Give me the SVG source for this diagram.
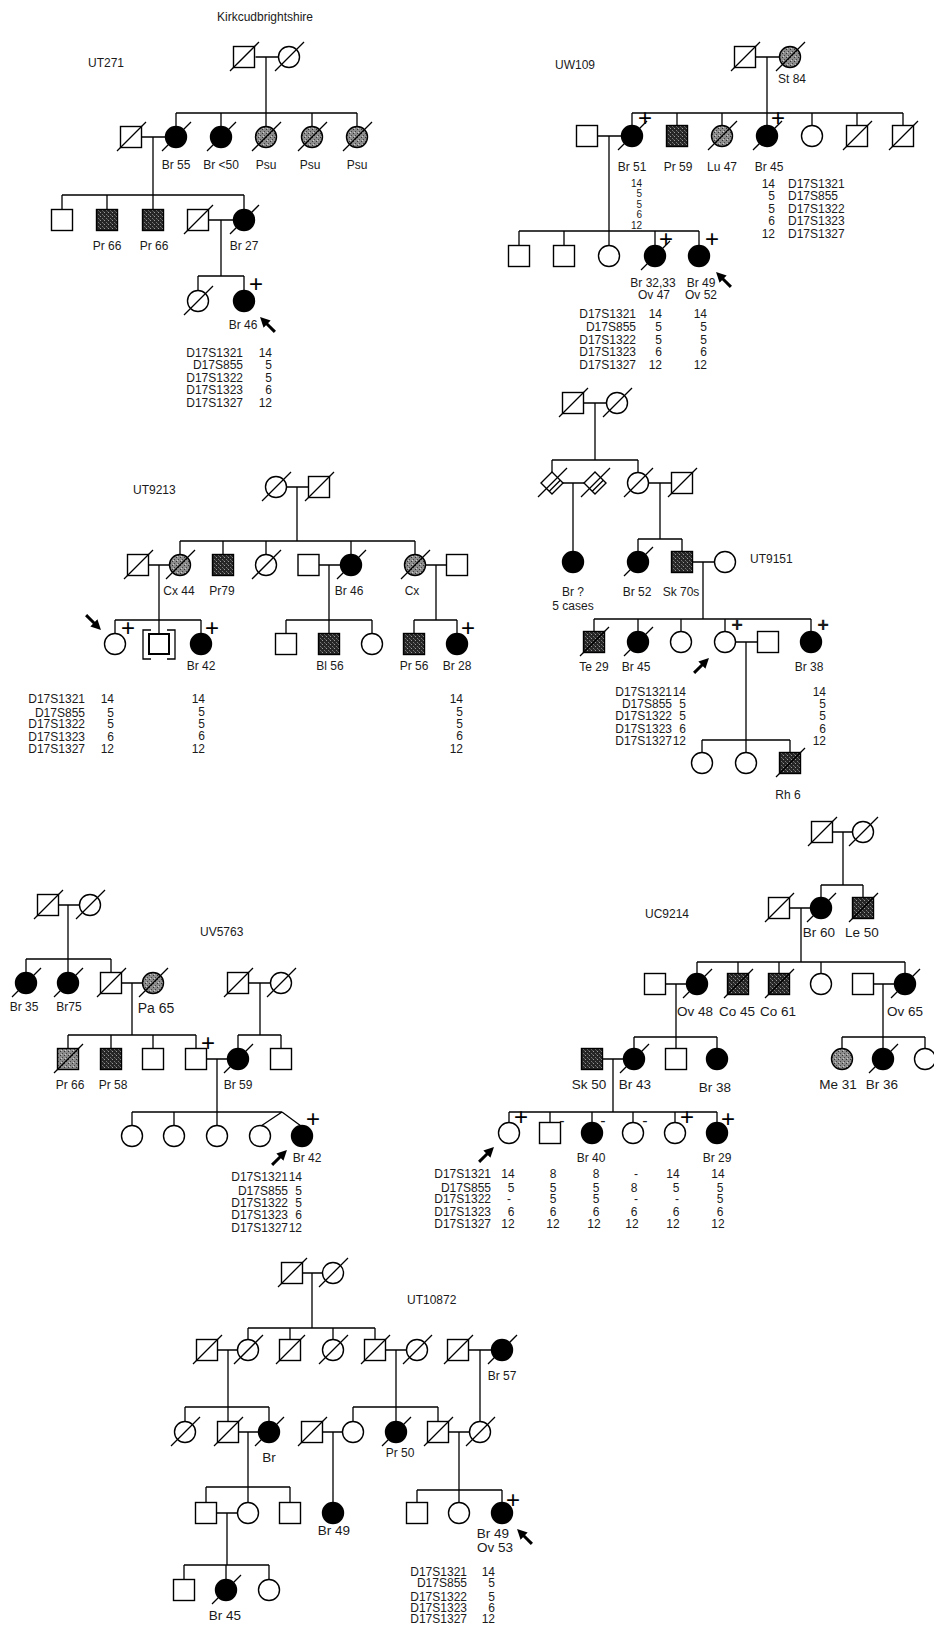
<svg xmlns="http://www.w3.org/2000/svg" width="934" height="1629" viewBox="0 0 934 1629">
<style>
.o{fill:#fff;stroke:#000;stroke-width:1.4}
.f{fill:#000;stroke:#000;stroke-width:1.4}
.s{fill:url(#stip);stroke:#000;stroke-width:1.4}
.g{fill:url(#grey);stroke:#000;stroke-width:1.4}
.d{fill:none;stroke:#000;stroke-width:1.3}
.cn{fill:none;stroke:#000;stroke-width:1.3}
.ar{fill:none;stroke:#000;stroke-width:3;marker-end:url(#ah)}
.t{font-family:"Liberation Sans",Arial,sans-serif;font-size:12px;fill:#1a1a1a}
.c{text-anchor:middle}
.r{text-anchor:end}
.lg{font-size:13.5px}
.sm{font-size:10px}
.pl{font-size:24px;fill:#000}
.plb{font-size:20px;font-weight:bold}
.mi{font-size:16px}
</style>
<defs>
<pattern id="stip" width="4" height="4" patternUnits="userSpaceOnUse"><rect width="4" height="4" fill="#262626"/><rect x="1" y="0" width="1" height="1" fill="#9a9a9a"/><rect x="3" y="2" width="1" height="1" fill="#777"/><rect x="0" y="3" width="1" height="1" fill="#555"/></pattern>
<pattern id="grey" width="4" height="4" patternUnits="userSpaceOnUse"><rect width="4" height="4" fill="#8c8c8c"/><rect x="0" y="0" width="1" height="1" fill="#333"/><rect x="2" y="2" width="1" height="1" fill="#444"/><rect x="1" y="3" width="1" height="1" fill="#ccc"/></pattern>
<marker id="ah" viewBox="0 0 10 10" refX="2" refY="5" markerWidth="10" markerHeight="10" markerUnits="userSpaceOnUse" orient="auto"><path d="M0,0L10,5L0,10z" fill="#000"/></marker>
<rect id="sq" x="-10.5" y="-10.5" width="21" height="21"/>
<circle id="ci" r="10.5"/>
<line id="sl" x1="-14" y1="14" x2="15" y2="-15"/>
<polygon id="dm" points="0,-11 11,0 0,11 -11,0"/>
<line id="dl" x1="-2.7" y1="8.3" x2="8.3" y2="-2.7"/>
</defs>
<rect width="934" height="1629" fill="#fff"/>

<!-- ===== connectors ===== -->
<g id="connectors">
<path class="cn" d="M255.5,57H278.5 M266,57V113 M176,113H357 M176,113V126.5 M221,113V126.5 M266,113V126.5 M312,113V126.5 M357,113V126.5 M142,137H165.5 M153,137V195 M62,195H244 M62,195V209.5 M107,195V209.5 M153,195V209.5 M244,195V209.5 M209,220H233.5 M221,220V276 M198,276H244 M198,276V290.5 M244,276V290.5"/>
<path class="cn" d="M755.5,57H779.5 M767,57V113 M632,113H903 M632,113V125.5 M677,113V125.5 M722,113V125.5 M767,113V125.5 M812,113V125.5 M857,113V125.5 M903,113V125.5 M597.5,136H621.5 M609,136V231 M519,231H699 M519,231V245.5 M564,231V245.5 M609,231V245.5 M655,231V245.5 M699,231V245.5"/>
<path class="cn" d="M286.5,487H308.5 M297,487V541 M180,541H415 M180,541V554.5 M223,541V554.5 M266,541V554.5 M351,541V554.5 M415,541V554.5 M148.5,565H169.5 M159,565V620 M319,565H340.5 M329,565V620 M425.5,565H446.5 M436,565V620 M115,620H201 M115,620V633.5 M159,620V634 M201,620V633.5 M286,620H372 M286,620V633.5 M329,620V633.5 M372,620V633.5 M414,620H457 M414,620V633.5 M457,620V633.5"/>
<path class="cn" d="M583.5,403H606.5 M595,403V460 M552,460H638 M552,460V472 M638,460V472.5 M563,483H584 M573,483V551.5 M648.5,483H671.5 M660,483V539 M638,539H682 M638,539V551.5 M682,539V551.5 M692.5,562H714.5 M703,562V619 M594,619H811 M594,619V631.5 M638,619V631.5 M681,619V631.5 M725,619V631.5 M811,619V631.5 M735.5,642H757.5 M746,642V740 M702,740H790 M702,740V752.5 M746,740V752.5 M790,740V752.5"/>
<path class="cn" d="M58.5,905H79.5 M68,905V959 M26,959H111 M26,959V972.5 M68,959V972.5 M111,959V972.5 M121.5,983H142.5 M132,983V1035 M248.5,983H270.5 M260,983V1035 M68,1035H196 M68,1035V1048.5 M111,1035V1048.5 M153,1035V1048.5 M196,1035V1048.5 M238,1035H281 M238,1035V1048.5 M281,1035V1048.5 M206.5,1059H227.5 M217,1059V1112 M132,1112H282 M132,1112V1125.5 M174,1112V1125.5 M217,1112V1125.5 M282,1112L261,1126 M282,1112L301,1126"/>
<path class="cn" d="M832.5,832H852.5 M843,832V885 M821,885H863 M821,885V897.5 M863,885V897.5 M789.5,908H810.5 M801,908V962 M697,962H905 M697,962V973.5 M738,962V973.5 M779,962V973.5 M821,962V973.5 M905,962V973.5 M665.5,984H686.5 M676,984V1037 M873.5,984H894.5 M883,984V1037 M634,1037H717 M634,1037V1048.5 M676,1037V1048.5 M717,1037V1048.5 M842,1037H925 M842,1037V1048.5 M883,1037V1048.5 M925,1037V1048.5 M602.5,1059H623.5 M613,1059V1112 M509,1112H717 M509,1112V1122.5 M550,1112V1122.5 M592,1112V1122.5 M633,1112V1122.5 M675,1112V1122.5 M717,1112V1122.5"/>
<path class="cn" d="M302.5,1273H322.5 M312,1273V1328 M248,1328H375 M248,1328V1339.5 M290,1328V1339.5 M333,1328V1339.5 M375,1328V1339.5 M217.5,1350H237.5 M228,1350V1407 M385.5,1350H406.5 M396,1350V1407 M468.5,1350H491.5 M480,1350V1421.5 M185,1407H269 M185,1407V1421.5 M228,1407V1421.5 M269,1407V1421.5 M353,1407H438 M353,1407V1421.5 M396,1407V1421.5 M438,1407V1421.5 M238.5,1432H258.5 M248,1432V1487 M322.5,1432H342.5 M333,1432V1502.5 M448.5,1432H469.5 M459,1432V1490 M206,1487H290 M206,1487V1502.5 M248,1487V1502.5 M290,1487V1502.5 M417,1490H502 M417,1490V1502.5 M459,1490V1502.5 M502,1490V1502.5 M216.5,1513H237.5 M227,1513V1565 M184,1565H269 M184,1565V1579.5 M226,1565V1579.5 M269,1565V1579.5"/>
<path class="ar" d="M274.9,331.9L265.7,322.7"/>
<path class="ar" d="M730.9,286.9L721.7,277.7"/>
<path class="ar" d="M86.1,615.1L95.3,624.3"/>
<path class="ar" d="M694.1,672.9L703.3,663.7"/>
<path class="ar" d="M272.1,1164.9L281.3,1155.7"/>
<path class="ar" d="M479.1,1161.9L488.3,1152.7"/>
<path class="ar" d="M531.9,1543.9L522.7,1534.7"/>
</g>

<!-- ===== UT271 ===== -->
<g id="ut271">
<text class="t c" x="265" y="21">Kirkcudbrightshire</text>
<text class="t" x="88" y="67">UT271</text>
<g id="ut271-i1"><use href="#sq" x="244" y="57" class="o"/><use href="#sl" x="244" y="57" class="d"/></g>
<g id="ut271-i2"><use href="#ci" x="289" y="57" class="o"/><use href="#sl" x="289" y="57" class="d"/></g>
<g id="ut271-ii1"><use href="#sq" x="131" y="137" class="o"/><use href="#sl" x="131" y="137" class="d"/></g>
<g id="ut271-ii2"><use href="#ci" x="176" y="137" class="f"/><use href="#sl" x="176" y="137" class="d"/><text class="t c" x="176" y="169">Br 55</text></g>
<g id="ut271-ii3"><use href="#ci" x="221" y="137" class="f"/><use href="#sl" x="221" y="137" class="d"/><text class="t c" x="221" y="169">Br &lt;50</text></g>
<g id="ut271-ii4"><use href="#ci" x="266" y="137" class="g"/><use href="#sl" x="266" y="137" class="d"/><text class="t c" x="266" y="169">Psu</text></g>
<g id="ut271-ii5"><use href="#ci" x="312" y="137" class="g"/><use href="#sl" x="312" y="137" class="d"/><text class="t c" x="310" y="169">Psu</text></g>
<g id="ut271-ii6"><use href="#ci" x="357" y="137" class="g"/><use href="#sl" x="357" y="137" class="d"/><text class="t c" x="357" y="169">Psu</text></g>
<g id="ut271-iii1"><use href="#sq" x="62" y="220" class="o"/></g>
<g id="ut271-iii2"><use href="#sq" x="107" y="220" class="s"/><text class="t c" x="107" y="250">Pr 66</text></g>
<g id="ut271-iii3"><use href="#sq" x="153" y="220" class="s"/><text class="t c" x="154" y="250">Pr 66</text></g>
<g id="ut271-iii4"><use href="#sq" x="198" y="220" class="o"/><use href="#sl" x="198" y="220" class="d"/></g>
<g id="ut271-iii5"><use href="#ci" x="244" y="220" class="f"/><use href="#sl" x="244" y="220" class="d"/><text class="t c" x="244" y="250">Br 27</text></g>
<g id="ut271-iv1"><use href="#ci" x="198" y="301" class="o"/><use href="#sl" x="198" y="301" class="d"/></g>
<g id="ut271-iv2"><use href="#ci" x="244" y="301" class="f"/><text class="t pl c" x="256" y="292">+</text><text class="t c" x="243" y="329">Br 46</text></g>
<g id="ut271-markers">
<text class="t r" x="243" y="357">D17S1321</text><text class="t r" x="272" y="357">14</text>
<text class="t r" x="243" y="369">D17S855</text><text class="t r" x="272" y="369">5</text>
<text class="t r" x="243" y="382">D17S1322</text><text class="t r" x="272" y="382">5</text>
<text class="t r" x="243" y="394">D17S1323</text><text class="t r" x="272" y="394">6</text>
<text class="t r" x="243" y="407">D17S1327</text><text class="t r" x="272" y="407">12</text>
</g>
</g>

<!-- ===== UW109 ===== -->
<g id="uw109">
<text class="t" x="555" y="69">UW109</text>
<g id="uw109-i1"><use href="#sq" x="745" y="57" class="o"/><use href="#sl" x="745" y="57" class="d"/></g>
<g id="uw109-i2"><use href="#ci" x="790" y="57" class="g"/><use href="#sl" x="790" y="57" class="d"/><text class="t c" x="792" y="83">St 84</text></g>
<g id="uw109-ii0"><use href="#sq" x="587" y="136" class="o"/></g>
<g id="uw109-ii1"><use href="#ci" x="632" y="136" class="f"/><use href="#sl" x="632" y="136" class="d"/><text class="t pl c" x="645" y="126">+</text><text class="t c" x="632" y="171">Br 51</text></g>
<g id="uw109-ii2"><use href="#sq" x="677" y="136" class="s"/><text class="t c" x="678" y="171">Pr 59</text></g>
<g id="uw109-ii3"><use href="#ci" x="722" y="136" class="g"/><use href="#sl" x="722" y="136" class="d"/><text class="t c" x="722" y="171">Lu 47</text></g>
<g id="uw109-ii4"><use href="#ci" x="767" y="136" class="f"/><use href="#sl" x="767" y="136" class="d"/><text class="t pl c" x="778" y="126">+</text><text class="t c" x="769" y="171">Br 45</text></g>
<g id="uw109-ii5"><use href="#ci" x="812" y="136" class="o"/></g>
<g id="uw109-ii6"><use href="#sq" x="857" y="136" class="o"/><use href="#sl" x="857" y="136" class="d"/></g>
<g id="uw109-ii7"><use href="#sq" x="903" y="136" class="o"/><use href="#sl" x="903" y="136" class="d"/></g>
<g id="uw109-ii1-markers">
<text class="t sm r" x="642" y="187">14</text>
<text class="t sm r" x="642" y="197">5</text>
<text class="t sm r" x="642" y="208">5</text>
<text class="t sm r" x="642" y="218">6</text>
<text class="t sm r" x="642" y="229">12</text>
</g>
<g id="uw109-ii4-markers">
<text class="t r" x="775" y="188">14</text><text class="t" x="788" y="188">D17S1321</text>
<text class="t r" x="775" y="200">5</text><text class="t" x="788" y="200">D17S855</text>
<text class="t r" x="775" y="213">5</text><text class="t" x="788" y="213">D17S1322</text>
<text class="t r" x="775" y="225">6</text><text class="t" x="788" y="225">D17S1323</text>
<text class="t r" x="775" y="238">12</text><text class="t" x="788" y="238">D17S1327</text>
</g>
<g id="uw109-iii1"><use href="#sq" x="519" y="256" class="o"/></g>
<g id="uw109-iii2"><use href="#sq" x="564" y="256" class="o"/></g>
<g id="uw109-iii3"><use href="#ci" x="609" y="256" class="o"/></g>
<g id="uw109-iii4"><use href="#ci" x="655" y="256" class="f"/><use href="#sl" x="655" y="256" class="d"/><text class="t pl c" x="666" y="247">+</text><text class="t c" x="653" y="287">Br 32,33</text><text class="t c" x="654" y="299">Ov 47</text></g>
<g id="uw109-iii5"><use href="#ci" x="699" y="256" class="f"/><text class="t pl c" x="712" y="247">+</text><text class="t c" x="701" y="287">Br 49</text><text class="t c" x="701" y="299">Ov 52</text></g>
<g id="uw109-markers">
<text class="t r" x="636" y="318">D17S1321</text><text class="t r" x="662" y="318">14</text><text class="t r" x="707" y="318">14</text>
<text class="t r" x="636" y="331">D17S855</text><text class="t r" x="662" y="331">5</text><text class="t r" x="707" y="331">5</text>
<text class="t r" x="636" y="344">D17S1322</text><text class="t r" x="662" y="344">5</text><text class="t r" x="707" y="344">5</text>
<text class="t r" x="636" y="356">D17S1323</text><text class="t r" x="662" y="356">6</text><text class="t r" x="707" y="356">6</text>
<text class="t r" x="636" y="369">D17S1327</text><text class="t r" x="662" y="369">12</text><text class="t r" x="707" y="369">12</text>
</g>
</g>

<!-- ===== UT9213 ===== -->
<g id="ut9213">
<text class="t" x="133" y="494">UT9213</text>
<g id="ut9213-i1"><use href="#ci" x="276" y="487" class="o"/><use href="#sl" x="276" y="487" class="d"/></g>
<g id="ut9213-i2"><use href="#sq" x="319" y="487" class="o"/><use href="#sl" x="319" y="487" class="d"/></g>
<g id="ut9213-ii1"><use href="#sq" x="138" y="565" class="o"/><use href="#sl" x="138" y="565" class="d"/></g>
<g id="ut9213-ii2"><use href="#ci" x="180" y="565" class="g"/><use href="#sl" x="180" y="565" class="d"/><text class="t c" x="179" y="595">Cx 44</text></g>
<g id="ut9213-ii3"><use href="#sq" x="223" y="565" class="s"/><text class="t c" x="222" y="595">Pr79</text></g>
<g id="ut9213-ii4"><use href="#ci" x="266" y="565" class="o"/><use href="#sl" x="266" y="565" class="d"/></g>
<g id="ut9213-ii5"><use href="#sq" x="308.5" y="565" class="o"/></g>
<g id="ut9213-ii6"><use href="#ci" x="351" y="565" class="f"/><use href="#sl" x="351" y="565" class="d"/><text class="t c" x="349" y="595">Br 46</text></g>
<g id="ut9213-ii7"><use href="#ci" x="415" y="565" class="g"/><use href="#sl" x="415" y="565" class="d"/><text class="t c" x="412" y="595">Cx</text></g>
<g id="ut9213-ii8"><use href="#sq" x="457" y="565" class="o"/></g>
<g id="ut9213-iii1"><use href="#ci" x="115" y="644" class="o"/><text class="t pl c" x="128" y="636">+</text></g>
<g id="ut9213-iii2"><rect x="149" y="634" width="20" height="20" fill="#fff" stroke="#000" stroke-width="2"/><path class="d" d="M151,630H143V659H151 M167,630H175V659H167"/></g>
<g id="ut9213-iii3"><use href="#ci" x="201" y="644" class="f"/><text class="t pl c" x="212" y="636">+</text><text class="t c" x="201" y="670">Br 42</text></g>
<g id="ut9213-iii4"><use href="#sq" x="286" y="644" class="o"/></g>
<g id="ut9213-iii5"><use href="#sq" x="329" y="644" class="s"/><text class="t c" x="330" y="670">Bl 56</text></g>
<g id="ut9213-iii6"><use href="#ci" x="372" y="644" class="o"/></g>
<g id="ut9213-iii7"><use href="#sq" x="414" y="644" class="s"/><text class="t c" x="414" y="670">Pr 56</text></g>
<g id="ut9213-iii8"><use href="#ci" x="457" y="644" class="f"/><text class="t pl c" x="468" y="636">+</text><text class="t c" x="457" y="670">Br 28</text></g>
<g id="ut9213-markers">
<text class="t r" x="85" y="703">D17S1321</text><text class="t r" x="114" y="703">14</text><text class="t r" x="205" y="703">14</text><text class="t r" x="463" y="703">14</text>
<text class="t r" x="85" y="717">D17S855</text><text class="t r" x="114" y="717">5</text><text class="t r" x="205" y="716">5</text><text class="t r" x="463" y="716">5</text>
<text class="t r" x="85" y="728">D17S1322</text><text class="t r" x="114" y="728">5</text><text class="t r" x="205" y="728">5</text><text class="t r" x="463" y="728">5</text>
<text class="t r" x="85" y="741">D17S1323</text><text class="t r" x="114" y="741">6</text><text class="t r" x="205" y="740">6</text><text class="t r" x="463" y="740">6</text>
<text class="t r" x="85" y="753">D17S1327</text><text class="t r" x="114" y="753">12</text><text class="t r" x="205" y="753">12</text><text class="t r" x="463" y="753">12</text>
</g>
</g>

<!-- ===== UT9151 ===== -->
<g id="ut9151">
<text class="t" x="750" y="563">UT9151</text>
<g id="ut9151-i1"><use href="#sq" x="573" y="403" class="o"/><use href="#sl" x="573" y="403" class="d"/></g>
<g id="ut9151-i2"><use href="#ci" x="617" y="403" class="o"/><use href="#sl" x="617" y="403" class="d"/></g>
<g id="ut9151-ii1"><use href="#dm" x="552" y="483" class="o"/><use href="#sl" x="552" y="483" class="d"/><use href="#dl" x="552" y="483" class="d"/></g>
<g id="ut9151-ii2"><use href="#dm" x="595" y="483" class="o"/><use href="#sl" x="595" y="483" class="d"/><use href="#dl" x="595" y="483" class="d"/></g>
<g id="ut9151-ii3"><use href="#ci" x="638" y="483" class="o"/><use href="#sl" x="638" y="483" class="d"/></g>
<g id="ut9151-ii4"><use href="#sq" x="682" y="483" class="o"/><use href="#sl" x="682" y="483" class="d"/></g>
<g id="ut9151-iii1"><use href="#ci" x="573" y="562" class="f"/><text class="t c" x="573" y="596">Br ?</text><text class="t c" x="573" y="610">5 cases</text></g>
<g id="ut9151-iii2"><use href="#ci" x="638" y="562" class="f"/><use href="#sl" x="638" y="562" class="d"/><text class="t c" x="637" y="596">Br 52</text></g>
<g id="ut9151-iii3"><use href="#sq" x="682" y="562" class="s"/><text class="t c" x="681" y="596">Sk 70s</text></g>
<g id="ut9151-iii4"><use href="#ci" x="725" y="562" class="o"/></g>
<g id="ut9151-iv1"><use href="#sq" x="594" y="642" class="s"/><use href="#sl" x="594" y="642" class="d"/><text class="t c" x="594" y="671">Te 29</text></g>
<g id="ut9151-iv2"><use href="#ci" x="638" y="642" class="f"/><use href="#sl" x="638" y="642" class="d"/><text class="t c" x="636" y="671">Br 45</text></g>
<g id="ut9151-iv3"><use href="#ci" x="681" y="642" class="o"/></g>
<g id="ut9151-iv4"><use href="#ci" x="725" y="642" class="o"/><text class="t plb c" x="737" y="632">+</text></g>
<g id="ut9151-iv5"><use href="#sq" x="768" y="642" class="o"/></g>
<g id="ut9151-iv6"><use href="#ci" x="811" y="642" class="f"/><text class="t plb c" x="823" y="632">+</text><text class="t c" x="809" y="671">Br 38</text></g>
<g id="ut9151-v1"><use href="#ci" x="702" y="763" class="o"/></g>
<g id="ut9151-v2"><use href="#ci" x="746" y="763" class="o"/></g>
<g id="ut9151-v3"><use href="#sq" x="790" y="763" class="s"/><use href="#sl" x="790" y="763" class="d"/><text class="t c" x="788" y="799">Rh 6</text></g>
<g id="ut9151-markers">
<text class="t r" x="672" y="696">D17S1321</text><text class="t r" x="686" y="696">14</text><text class="t r" x="826" y="696">14</text>
<text class="t r" x="672" y="708">D17S855</text><text class="t r" x="686" y="708">5</text><text class="t r" x="826" y="708">5</text>
<text class="t r" x="672" y="720">D17S1322</text><text class="t r" x="686" y="720">5</text><text class="t r" x="826" y="720">5</text>
<text class="t r" x="672" y="733">D17S1323</text><text class="t r" x="686" y="733">6</text><text class="t r" x="826" y="733">6</text>
<text class="t r" x="672" y="745">D17S1327</text><text class="t r" x="686" y="745">12</text><text class="t r" x="826" y="745">12</text>
</g>
</g>

<!-- ===== UV5763 ===== -->
<g id="uv5763">
<text class="t" x="200" y="936">UV5763</text>
<g id="uv5763-i1"><use href="#sq" x="48" y="905" class="o"/><use href="#sl" x="48" y="905" class="d"/></g>
<g id="uv5763-i2"><use href="#ci" x="90" y="905" class="o"/><use href="#sl" x="90" y="905" class="d"/></g>
<g id="uv5763-ii1"><use href="#ci" x="26" y="983" class="f"/><use href="#sl" x="26" y="983" class="d"/><text class="t c" x="24" y="1011">Br 35</text></g>
<g id="uv5763-ii2"><use href="#ci" x="68" y="983" class="f"/><use href="#sl" x="68" y="983" class="d"/><text class="t c" x="69" y="1011">Br75</text></g>
<g id="uv5763-ii3"><use href="#sq" x="111" y="983" class="o"/><use href="#sl" x="111" y="983" class="d"/></g>
<g id="uv5763-ii4"><use href="#ci" x="153" y="983" class="g"/><use href="#sl" x="153" y="983" class="d"/><text class="t c" x="156" y="1013" style="font-size:14px">Pa 65</text></g>
<g id="uv5763-ii5"><use href="#sq" x="238" y="983" class="o"/><use href="#sl" x="238" y="983" class="d"/></g>
<g id="uv5763-ii6"><use href="#ci" x="281" y="983" class="o"/><use href="#sl" x="281" y="983" class="d"/></g>
<g id="uv5763-iii1"><use href="#sq" x="68" y="1059" class="g"/><use href="#sl" x="68" y="1059" class="d"/><text class="t c" x="70" y="1089">Pr 66</text></g>
<g id="uv5763-iii2"><use href="#sq" x="111" y="1059" class="s"/><text class="t c" x="113" y="1089">Pr 58</text></g>
<g id="uv5763-iii3"><use href="#sq" x="153" y="1059" class="o"/></g>
<g id="uv5763-iii4"><use href="#sq" x="196" y="1059" class="o"/><text class="t pl c" x="208" y="1051">+</text></g>
<g id="uv5763-iii5"><use href="#ci" x="238" y="1059" class="f"/><use href="#sl" x="238" y="1059" class="d"/><text class="t c" x="238" y="1089">Br 59</text></g>
<g id="uv5763-iii6"><use href="#sq" x="281" y="1059" class="o"/></g>
<g id="uv5763-iv1"><use href="#ci" x="132" y="1136" class="o"/></g>
<g id="uv5763-iv2"><use href="#ci" x="174" y="1136" class="o"/></g>
<g id="uv5763-iv3"><use href="#ci" x="217" y="1136" class="o"/></g>
<g id="uv5763-iv4"><use href="#ci" x="260" y="1136" class="o"/></g>
<g id="uv5763-iv5"><use href="#ci" x="302" y="1136" class="f"/><text class="t pl c" x="313" y="1127">+</text><text class="t c" x="307" y="1162">Br 42</text></g>
<g id="uv5763-markers">
<text class="t r" x="288" y="1181">D17S1321</text><text class="t r" x="302" y="1181">14</text>
<text class="t r" x="288" y="1195">D17S855</text><text class="t r" x="302" y="1195">5</text>
<text class="t r" x="288" y="1207">D17S1322</text><text class="t r" x="302" y="1207">5</text>
<text class="t r" x="288" y="1219">D17S1323</text><text class="t r" x="302" y="1219">6</text>
<text class="t r" x="288" y="1232">D17S1327</text><text class="t r" x="302" y="1232">12</text>
</g>
</g>

<!-- ===== UC9214 ===== -->
<g id="uc9214">
<text class="t" x="645" y="918">UC9214</text>
<g id="uc9214-i1"><use href="#sq" x="822" y="832" class="o"/><use href="#sl" x="822" y="832" class="d"/></g>
<g id="uc9214-i2"><use href="#ci" x="863" y="832" class="o"/><use href="#sl" x="863" y="832" class="d"/></g>
<g id="uc9214-ii1"><use href="#sq" x="779" y="908" class="o"/><use href="#sl" x="779" y="908" class="d"/></g>
<g id="uc9214-ii2"><use href="#ci" x="821" y="908" class="f"/><use href="#sl" x="821" y="908" class="d"/><text class="t lg c" x="819" y="937">Br 60</text></g>
<g id="uc9214-ii3"><use href="#sq" x="863" y="908" class="s"/><use href="#sl" x="863" y="908" class="d"/><text class="t lg c" x="862" y="937">Le 50</text></g>
<g id="uc9214-iii1"><use href="#sq" x="655" y="984" class="o"/></g>
<g id="uc9214-iii2"><use href="#ci" x="697" y="984" class="f"/><use href="#sl" x="697" y="984" class="d"/><text class="t lg c" x="695" y="1016">Ov 48</text></g>
<g id="uc9214-iii3"><use href="#sq" x="738" y="984" class="s"/><use href="#sl" x="738" y="984" class="d"/><text class="t lg c" x="737" y="1016">Co 45</text></g>
<g id="uc9214-iii4"><use href="#sq" x="779" y="984" class="s"/><use href="#sl" x="779" y="984" class="d"/><text class="t lg c" x="778" y="1016">Co 61</text></g>
<g id="uc9214-iii5"><use href="#ci" x="821" y="984" class="o"/></g>
<g id="uc9214-iii6"><use href="#sq" x="863" y="984" class="o"/></g>
<g id="uc9214-iii7"><use href="#ci" x="905" y="984" class="f"/><use href="#sl" x="905" y="984" class="d"/><text class="t lg c" x="905" y="1016">Ov 65</text></g>
<g id="uc9214-iv1"><use href="#sq" x="592" y="1059" class="s"/><text class="t lg c" x="589" y="1089">Sk 50</text></g>
<g id="uc9214-iv2"><use href="#ci" x="634" y="1059" class="f"/><use href="#sl" x="634" y="1059" class="d"/><text class="t lg c" x="635" y="1089">Br 43</text></g>
<g id="uc9214-iv3"><use href="#sq" x="676" y="1059" class="o"/></g>
<g id="uc9214-iv4"><use href="#ci" x="717" y="1059" class="f"/><text class="t lg c" x="715" y="1092">Br 38</text></g>
<g id="uc9214-iv5"><use href="#ci" x="842" y="1059" class="g"/><text class="t lg c" x="838" y="1089">Me 31</text></g>
<g id="uc9214-iv6"><use href="#ci" x="883" y="1059" class="f"/><use href="#sl" x="883" y="1059" class="d"/><text class="t lg c" x="882" y="1089">Br 36</text></g>
<g id="uc9214-iv7"><use href="#ci" x="925" y="1059" class="o"/></g>
<g id="uc9214-v1"><use href="#ci" x="509" y="1133" class="o"/><text class="t pl c" x="521" y="1125">+</text></g>
<g id="uc9214-v2"><use href="#sq" x="550" y="1133" class="o"/><text class="t mi c" x="562" y="1126">-</text></g>
<g id="uc9214-v3"><use href="#ci" x="592" y="1133" class="f"/><text class="t mi c" x="603" y="1126">-</text><text class="t c" x="591" y="1162">Br 40</text></g>
<g id="uc9214-v4"><use href="#ci" x="633" y="1133" class="o"/><text class="t mi c" x="645" y="1126">-</text></g>
<g id="uc9214-v5"><use href="#ci" x="675" y="1133" class="o"/><text class="t pl c" x="687" y="1125">+</text></g>
<g id="uc9214-v6"><use href="#ci" x="717" y="1133" class="f"/><text class="t pl c" x="728" y="1127">+</text><text class="t c" x="717" y="1162">Br 29</text></g>
<g id="uc9214-markers">
<text class="t r" x="491" y="1178">D17S1321</text>
<text class="t r" x="491" y="1192">D17S855</text>
<text class="t r" x="491" y="1203">D17S1322</text>
<text class="t r" x="491" y="1216">D17S1323</text>
<text class="t r" x="491" y="1228">D17S1327</text>
<text class="t c" x="508" y="1178">14</text><text class="t c" x="553" y="1178">8</text><text class="t c" x="596" y="1178">8</text><text class="t c" x="636" y="1178">-</text><text class="t c" x="673" y="1178">14</text><text class="t c" x="718" y="1178">14</text>
<text class="t c" x="511" y="1192">5</text><text class="t c" x="553" y="1192">5</text><text class="t c" x="596" y="1192">5</text><text class="t c" x="634" y="1192">8</text><text class="t c" x="676" y="1192">5</text><text class="t c" x="720" y="1192">5</text>
<text class="t c" x="509" y="1203">-</text><text class="t c" x="553" y="1203">5</text><text class="t c" x="596" y="1203">5</text><text class="t c" x="636" y="1203">-</text><text class="t c" x="677" y="1203">-</text><text class="t c" x="720" y="1203">5</text>
<text class="t c" x="511" y="1216">6</text><text class="t c" x="553" y="1216">6</text><text class="t c" x="596" y="1216">6</text><text class="t c" x="634" y="1216">6</text><text class="t c" x="676" y="1216">6</text><text class="t c" x="720" y="1216">6</text>
<text class="t c" x="508" y="1228">12</text><text class="t c" x="553" y="1228">12</text><text class="t c" x="594" y="1228">12</text><text class="t c" x="632" y="1228">12</text><text class="t c" x="673" y="1228">12</text><text class="t c" x="718" y="1228">12</text>
</g>
</g>

<!-- ===== UT10872 ===== -->
<g id="ut10872">
<text class="t" x="407" y="1304">UT10872</text>
<g id="ut10872-i1"><use href="#sq" x="292" y="1273" class="o"/><use href="#sl" x="292" y="1273" class="d"/></g>
<g id="ut10872-i2"><use href="#ci" x="333" y="1273" class="o"/><use href="#sl" x="333" y="1273" class="d"/></g>
<g id="ut10872-ii1"><use href="#sq" x="207" y="1350" class="o"/><use href="#sl" x="207" y="1350" class="d"/></g>
<g id="ut10872-ii2"><use href="#ci" x="248" y="1350" class="o"/><use href="#sl" x="248" y="1350" class="d"/></g>
<g id="ut10872-ii3"><use href="#sq" x="290" y="1350" class="o"/><use href="#sl" x="290" y="1350" class="d"/></g>
<g id="ut10872-ii4"><use href="#ci" x="333" y="1350" class="o"/><use href="#sl" x="333" y="1350" class="d"/></g>
<g id="ut10872-ii5"><use href="#sq" x="375" y="1350" class="o"/><use href="#sl" x="375" y="1350" class="d"/></g>
<g id="ut10872-ii6"><use href="#ci" x="417" y="1350" class="o"/><use href="#sl" x="417" y="1350" class="d"/></g>
<g id="ut10872-ii7"><use href="#sq" x="458" y="1350" class="o"/><use href="#sl" x="458" y="1350" class="d"/></g>
<g id="ut10872-ii8"><use href="#ci" x="502" y="1350" class="f"/><use href="#sl" x="502" y="1350" class="d"/><text class="t c" x="502" y="1380">Br 57</text></g>
<g id="ut10872-iii1"><use href="#ci" x="185" y="1432" class="o"/><use href="#sl" x="185" y="1432" class="d"/></g>
<g id="ut10872-iii2"><use href="#sq" x="228" y="1432" class="o"/><use href="#sl" x="228" y="1432" class="d"/></g>
<g id="ut10872-iii3"><use href="#ci" x="269" y="1432" class="f"/><use href="#sl" x="269" y="1432" class="d"/><text class="t lg c" x="269" y="1462">Br</text></g>
<g id="ut10872-iii4"><use href="#sq" x="312" y="1432" class="o"/><use href="#sl" x="312" y="1432" class="d"/></g>
<g id="ut10872-iii5"><use href="#ci" x="353" y="1432" class="o"/></g>
<g id="ut10872-iii6"><use href="#ci" x="396" y="1432" class="f"/><use href="#sl" x="396" y="1432" class="d"/><text class="t c" x="400" y="1457">Pr 50</text></g>
<g id="ut10872-iii7"><use href="#sq" x="438" y="1432" class="o"/><use href="#sl" x="438" y="1432" class="d"/></g>
<g id="ut10872-iii8"><use href="#ci" x="480" y="1432" class="o"/><use href="#sl" x="480" y="1432" class="d"/></g>
<g id="ut10872-iv1"><use href="#sq" x="206" y="1513" class="o"/></g>
<g id="ut10872-iv2"><use href="#ci" x="248" y="1513" class="o"/></g>
<g id="ut10872-iv3"><use href="#sq" x="290" y="1513" class="o"/></g>
<g id="ut10872-iv4"><use href="#ci" x="333" y="1513" class="f"/><text class="t lg c" x="334" y="1535">Br 49</text></g>
<g id="ut10872-iv5"><use href="#sq" x="417" y="1513" class="o"/></g>
<g id="ut10872-iv6"><use href="#ci" x="459" y="1513" class="o"/></g>
<g id="ut10872-iv7"><use href="#ci" x="502" y="1513" class="f"/><text class="t pl c" x="513" y="1508">+</text><text class="t lg c" x="493" y="1538">Br 49</text><text class="t lg c" x="495" y="1552">Ov 53</text></g>
<g id="ut10872-v1"><use href="#sq" x="184" y="1590" class="o"/></g>
<g id="ut10872-v2"><use href="#ci" x="226" y="1590" class="f"/><use href="#sl" x="226" y="1590" class="d"/><text class="t lg c" x="225" y="1620">Br 45</text></g>
<g id="ut10872-v3"><use href="#ci" x="269" y="1590" class="o"/></g>
<g id="ut10872-markers">
<text class="t r" x="467" y="1576">D17S1321</text><text class="t r" x="495" y="1576">14</text>
<text class="t r" x="467" y="1587">D17S855</text><text class="t r" x="495" y="1587">5</text>
<text class="t r" x="467" y="1601">D17S1322</text><text class="t r" x="495" y="1601">5</text>
<text class="t r" x="467" y="1612">D17S1323</text><text class="t r" x="495" y="1612">6</text>
<text class="t r" x="467" y="1623">D17S1327</text><text class="t r" x="495" y="1623">12</text>
</g>
</g>
</svg>
